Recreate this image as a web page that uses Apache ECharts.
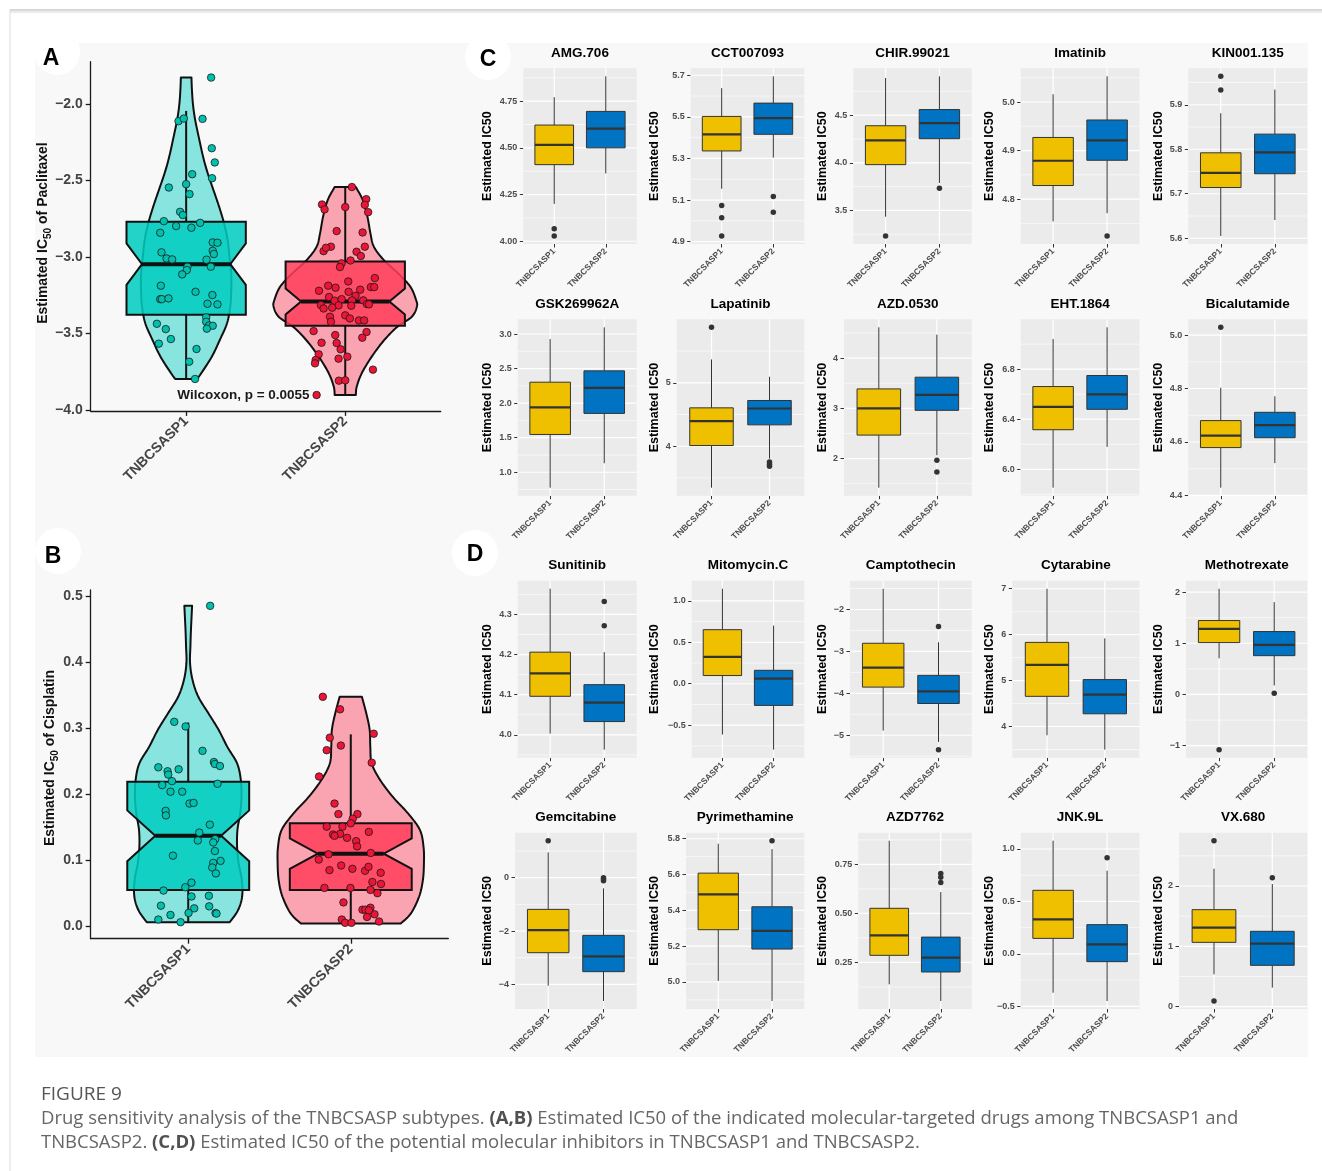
<!DOCTYPE html>
<html>
<head>
<meta charset="utf-8">
<title>Drug sensitivity analysis of the TNBCSASP subtypes</title>
<script src="https://cdn.jsdelivr.net/npm/echarts@6/dist/echarts.min.js"></script>
<style>
  html, body { margin: 0; padding: 0; background: #ffffff; }
  #chart { width: 1322px; height: 1171px; }
</style>
</head>
<body>
<div id="chart"></div>
<script>
// ---------------------------------------------------------------------------
// Data
// ---------------------------------------------------------------------------
const groups = ['TNBCSASP1', 'TNBCSASP2'];

// Panel A: estimated IC50 of Paclitaxel per sample, with horizontal jitter (category units)
const paclitaxelSP1 = [-1.826, -2.111, -2.094, -2.096, -2.288, -2.381, -2.484, -2.458, -2.545, -2.523,
  -2.588, -2.704, -2.725, -2.765, -2.797, -2.808, -2.776, -2.841, -2.904, -2.906,
  -2.959, -2.980, -2.969, -3.009, -3.015, -3.017, -3.063, -3.063, -3.085, -3.113,
  -3.187, -3.227, -3.248, -3.275, -3.275, -3.270, -3.305, -3.309, -3.394, -3.423,
  -3.447, -3.449, -3.468, -3.436, -3.471, -3.536, -3.566, -3.601, -3.684, -3.797];
const paclitaxelSP1Jitter = [0.157, -0.048, -0.015, 0.103, 0.161, 0.180, 0.163, 0.038, -0.109, 0.000,
  0.021, -0.038, -0.021, -0.140, -0.063, 0.033, 0.088, -0.163, 0.167, 0.197,
  0.167, 0.174, -0.155, -0.123, -0.088, 0.128, 0.155, 0.008, 0.004, -0.025,
  -0.159, 0.059, 0.165, -0.163, -0.153, -0.111, 0.134, 0.197, 0.126, 0.126,
  0.144, 0.167, 0.130, -0.184, -0.128, -0.096, -0.172, 0.065, 0.019, 0.056];
const paclitaxelSP2 = [-2.542, -2.656, -2.688, -2.673, -2.621, -2.658, -2.706, -2.830, -2.839, -2.932,
  -2.932, -2.961, -2.939, -2.965, -2.993, -3.022, -3.041, -3.065, -3.137, -3.196,
  -3.196, -3.213, -3.159, -3.187, -3.200, -3.220, -3.227, -3.261, -3.253, -3.285,
  -3.275, -3.283, -3.283, -3.307, -3.309, -3.314, -3.336, -3.316, -3.331, -3.318,
  -3.390, -3.381, -3.401, -3.423, -3.414, -3.414, -3.484, -3.490, -3.510, -3.527,
  -3.560, -3.562, -3.603, -3.636, -3.651, -3.664, -3.673, -3.695, -3.736, -3.808,
  -3.806, -3.902];
const paclitaxelSP2Jitter = [0.042, -0.146, -0.130, 0.000, 0.132, 0.123, 0.144, -0.054, 0.109, 0.123,
  -0.090, -0.136, -0.121, 0.071, 0.098, 0.033, -0.023, -0.033, 0.186, 0.161,
  0.182, 0.094, 0.019, -0.107, -0.061, -0.165, 0.021, -0.102, 0.065, -0.067,
  -0.023, 0.042, 0.113, 0.136, 0.149, -0.153, -0.136, -0.042, -0.082, 0.038,
  -0.096, 0.000, 0.029, -0.090, 0.086, 0.119, -0.199, 0.134, -0.063, 0.107,
  -0.149, -0.054, -0.029, -0.167, 0.013, -0.042, -0.186, -0.190, 0.174, -0.040,
  0.000, -0.180];

// Panel B: estimated IC50 of Cisplatin
const cisplatinSP1 = [0.486, 0.310, 0.303, 0.266, 0.241, 0.235, 0.230, 0.238, 0.249, 0.246,
  0.243, 0.220, 0.214, 0.216, 0.204, 0.204, 0.186, 0.187, 0.175, 0.168,
  0.154, 0.142, 0.132, 0.130, 0.127, 0.114, 0.107, 0.099, 0.096, 0.089,
  0.080, 0.066, 0.059, 0.054, 0.045, 0.046, 0.031, 0.030, 0.027, 0.017,
  0.020, 0.020, 0.019, 0.010, 0.006];
const cisplatinSP1Jitter = [0.135, -0.086, -0.016, 0.088, -0.184, -0.127, -0.123, -0.059, 0.158, 0.164,
  0.195, -0.100, -0.160, 0.180, -0.109, -0.037, 0.008, 0.033, -0.139, -0.137,
  0.133, 0.068, 0.166, 0.059, 0.154, 0.164, -0.094, 0.199, 0.154, 0.148,
  0.170, 0.020, -0.018, -0.152, 0.020, 0.127, -0.168, 0.129, 0.037, -0.109,
  0.002, 0.168, 0.174, -0.184, -0.047];
const cisplatinSP2 = [0.348, 0.329, 0.286, 0.267, 0.274, 0.292, 0.248, 0.227, 0.186, 0.170,
  0.170, 0.163, 0.156, 0.151, 0.151, 0.139, 0.140, 0.137, 0.134, 0.143,
  0.129, 0.121, 0.109, 0.111, 0.101, 0.092, 0.085, 0.087, 0.084, 0.090,
  0.081, 0.067, 0.064, 0.058, 0.058, 0.055, 0.050, 0.036, 0.025, 0.025,
  0.028, 0.018, 0.014, 0.024, 0.010, 0.005, 0.005, 0.007];
const cisplatinSP2Jitter = [-0.172, -0.066, -0.129, -0.148, -0.061, 0.141, 0.129, -0.195, -0.100, -0.076,
  0.041, 0.012, 0.000, -0.148, -0.051, -0.109, -0.066, -0.100, -0.023, 0.111,
  0.033, 0.039, -0.137, 0.123, -0.197, -0.059, -0.131, 0.010, 0.088, 0.109,
  0.184, 0.133, 0.186, -0.162, -0.002, 0.121, 0.164, -0.045, 0.072, 0.090,
  0.121, 0.146, 0.100, 0.111, -0.055, -0.035, 0.004, 0.174];

// Box statistics: [lower whisker, Q1, median, Q3, upper whisker]
const paclitaxelBox = [[-3.797, -3.377, -3.046, -2.769, -2.044], [-3.902, -3.449, -3.290, -3.028, -2.542]];
const cisplatinBox = [[0.006, 0.055, 0.137, 0.219, 0.309], [0.004, 0.055, 0.110, 0.156, 0.291]];

// Kernel density profiles: [IC50, density relative to the widest violin of the panel]
const paclitaxelDensitySP1 = [[-3.797, 0.153], [-3.76, 0.21], [-3.65, 0.36], [-3.542, 0.47], [-3.434, 0.57],
  [-3.325, 0.616], [-3.216, 0.63], [-3.107, 0.63], [-3.0, 0.606], [-2.89, 0.58], [-2.78, 0.53],
  [-2.67, 0.46], [-2.56, 0.38], [-2.45, 0.30], [-2.35, 0.24], [-2.235, 0.185], [-2.1, 0.125],
  [-2.0, 0.095], [-1.9, 0.08], [-1.826, 0.074]];
const paclitaxelDensitySP2 = [[-3.902, 0.148], [-3.848, 0.16], [-3.76, 0.23], [-3.651, 0.37], [-3.542, 0.546],
  [-3.455, 0.73], [-3.39, 0.93], [-3.325, 1.0], [-3.281, 0.99], [-3.194, 0.91], [-3.107, 0.74],
  [-3.02, 0.54], [-2.932, 0.40], [-2.845, 0.352], [-2.736, 0.31], [-2.627, 0.245], [-2.542, 0.148]];
const cisplatinDensitySP1 = [[0.006, 0.567], [0.024, 0.68], [0.045, 0.737], [0.07, 0.733], [0.095, 0.69],
  [0.12, 0.668], [0.146, 0.673], [0.171, 0.71], [0.196, 0.728], [0.222, 0.719], [0.247, 0.668],
  [0.272, 0.535], [0.298, 0.415], [0.323, 0.276], [0.348, 0.138], [0.373, 0.06], [0.399, 0.025],
  [0.425, 0.03], [0.449, 0.037], [0.486, 0.053]];
const cisplatinDensitySP2 = [[0.004, 0.682], [0.019, 0.82], [0.045, 0.935], [0.07, 0.986], [0.095, 1.0],
  [0.12, 0.995], [0.146, 0.945], [0.171, 0.783], [0.196, 0.576], [0.222, 0.40], [0.247, 0.286],
  [0.272, 0.267], [0.298, 0.258], [0.323, 0.212], [0.348, 0.152]];

const paclitaxelTicks = ['−4.0', '−3.5', '−3.0', '−2.5', '−2.0'];
const cisplatinTicks = ['0.0', '0.1', '0.2', '0.3', '0.4', '0.5'];
const wilcoxonText = 'Wilcoxon, p = 0.0055';

// Panels C and D: drug names, box statistics and outliers per subtype
const drugs = ['AMG.706', 'CCT007093', 'CHIR.99021', 'Imatinib', 'KIN001.135',
  'GSK269962A', 'Lapatinib', 'AZD.0530', 'EHT.1864', 'Bicalutamide',
  'Sunitinib', 'Mitomycin.C', 'Camptothecin', 'Cytarabine', 'Methotrexate',
  'Gemcitabine', 'Pyrimethamine', 'AZD7762', 'JNK.9L', 'VX.680'];
const drugBoxSP1 = [
  [4.200, 4.410, 4.516, 4.622, 4.771], [5.154, 5.336, 5.416, 5.502, 5.638], [3.434, 3.981, 4.235, 4.389, 4.890],
  [4.754, 4.828, 4.879, 4.927, 5.016], [5.605, 5.714, 5.747, 5.792, 5.881],
  [0.777, 1.547, 1.939, 2.303, 2.927], [3.347, 4.011, 4.395, 4.605, 5.368], [1.420, 2.467, 3.000, 3.387, 4.613],
  [5.853, 6.316, 6.498, 6.661, 7.041], [4.429, 4.579, 4.624, 4.680, 4.803],
  [4.003, 4.096, 4.153, 4.206, 4.364], [-0.613, 0.099, 0.325, 0.652, 1.146], [-4.889, -3.852, -3.389, -2.806, -1.505],
  [3.810, 4.657, 5.343, 5.832, 7.000], [0.706, 1.013, 1.281, 1.444, 2.065],
  [-4.050, -2.813, -1.963, -1.188, 0.950], [5.006, 5.292, 5.489, 5.608, 5.772], [0.138, 0.286, 0.388, 0.526, 0.871],
  [-0.370, 0.148, 0.329, 0.606, 1.079], [0.536, 1.066, 1.309, 1.608, 2.287]];
const drugBoxSP2 = [
  [4.363, 4.500, 4.603, 4.695, 4.883], [5.304, 5.416, 5.494, 5.566, 5.695], [3.789, 4.253, 4.416, 4.559, 4.908],
  [4.771, 4.880, 4.921, 4.963, 5.053], [5.641, 5.745, 5.793, 5.834, 5.934],
  [1.131, 1.852, 2.220, 2.467, 3.097], [3.805, 4.337, 4.595, 4.721, 5.095], [2.067, 2.960, 3.267, 3.620, 4.467],
  [6.179, 6.479, 6.599, 6.749, 7.134], [4.521, 4.616, 4.663, 4.711, 4.771],
  [3.963, 4.033, 4.080, 4.125, 4.206], [-0.795, -0.261, 0.062, 0.162, 0.701], [-5.160, -4.243, -3.955, -3.572, -2.782],
  [3.496, 4.277, 4.693, 5.022, 5.920], [0.176, 0.758, 0.967, 1.229, 1.804],
  [-4.625, -3.525, -2.950, -2.163, -0.400], [4.894, 5.184, 5.285, 5.420, 5.742], [0.053, 0.201, 0.274, 0.379, 0.609],
  [-0.449, -0.074, 0.091, 0.279, 0.793], [0.315, 0.685, 1.044, 1.249, 2.033]];
const drugOutliersSP1 = [[4.067, 4.028], [5.074, 5.015, 4.927], [3.232], [], [5.964, 5.933],
  [], [5.874], [], [], [5.029],
  [], [], [], [], [-1.078],
  [1.388], [], [], [], [2.751, 0.094]];
const drugOutliersSP2 = [[], [5.117, 5.041], [3.733], [4.724], [],
  [], [3.753, 3.716, 3.684], [1.967, 1.733], [], [],
  [4.332, 4.272], [], [-2.407, -5.344], [], [0.026],
  [0.0, -0.05, -0.11], [5.789], [0.704, 0.684, 0.658], [0.917], [2.138]];
const drugTicks = [
  ['4.00', '4.25', '4.50', '4.75'], ['4.9', '5.1', '5.3', '5.5', '5.7'], ['3.5', '4.0', '4.5'],
  ['4.8', '4.9', '5.0'], ['5.6', '5.7', '5.8', '5.9'],
  ['1.0', '1.5', '2.0', '2.5', '3.0'], ['4', '5'], ['2', '3', '4'], ['6.0', '6.4', '6.8'], ['4.4', '4.6', '4.8', '5.0'],
  ['4.0', '4.1', '4.2', '4.3'], ['−0.5', '0.0', '0.5', '1.0'], ['−5', '−4', '−3', '−2'], ['4', '5', '6', '7'], ['−1', '0', '1', '2'],
  ['−4', '−2', '0'], ['5.0', '5.2', '5.4', '5.6', '5.8'], ['0.25', '0.50', '0.75'], ['−0.5', '0.0', '0.5', '1.0'], ['0', '1', '2']];

// ---------------------------------------------------------------------------
// Layout and style
// ---------------------------------------------------------------------------
const FONT = '"Liberation Sans", Arial, Helvetica, sans-serif';
const CAPTION_FONT = '"Open Sans", "Noto Sans", sans-serif';
const tealBase = [0, 205, 191], redBase = [255, 63, 91];
const rgba = (c, a) => `rgba(${c[0]},${c[1]},${c[2]},${a})`;
const violinFill = [rgba(tealBase, 0.45), rgba(redBase, 0.45)];
const notchFill = [rgba(tealBase, 0.86), rgba(redBase, 0.86)];
const pointFill = ['#00C0AE', '#EC1437'];
const jcoColors = ['#EFC000', '#0073C2'];

const abGrids = [
  { left: 90.7, top: 61.7, width: 350, height: 349.2 },
  { left: 90.7, top: 590, width: 357.6, height: 348.7 }
];
const notchRatio = [0.74, 0.54];

const colRight = [636.7, 804.3, 971.7, 1139.5, 1307.3];
const yTitleX = [487.3, 655, 822.7, 990, 1158.3];
const panelLeft = [
  [523.3, 690.7, 853.3, 1020.7, 1188.3],
  [517.7, 676.7, 844, 1020.7, 1188.3],
  [517.7, 691.7, 850, 1012.3, 1186],
  [515, 686, 858.3, 1020.7, 1179]
];
const rowTop = [68.3, 319.3, 580.7, 832.7];
const rowBottom = [244, 495.7, 757.7, 1009];

// ---------------------------------------------------------------------------
// Helpers
// ---------------------------------------------------------------------------
const parseTick = s => parseFloat(s.replace('−', '-'));
function tickFormatter(labels) {
  const nums = labels.map(parseTick);
  return v => {
    const j = nums.findIndex(t => Math.abs(t - v) < 1e-7);
    return j >= 0 ? labels[j] : '';
  };
}
function paddedRange(values) {
  const lo = Math.min(...values), hi = Math.max(...values);
  const pad = (hi - lo) * 0.05;
  return [lo - pad, hi + pad];
}
// Catmull-Rom smoothing of a pixel outline
function spline(pts, seg) {
  const out = [], n = pts.length;
  for (let i = 0; i < n - 1; i++) {
    const p0 = pts[Math.max(i - 1, 0)], p1 = pts[i], p2 = pts[i + 1], p3 = pts[Math.min(i + 2, n - 1)];
    for (let s = 0; s < seg; s++) {
      const t = s / seg, t2 = t * t, t3 = t2 * t;
      out.push([0, 1].map(k => 0.5 * (2 * p1[k] + (-p0[k] + p2[k]) * t +
        (2 * p0[k] - 5 * p1[k] + 4 * p2[k] - p3[k]) * t2 +
        (-p0[k] + 3 * p1[k] - 3 * p2[k] + p3[k]) * t3)));
    }
  }
  out.push(pts[n - 1].slice());
  return out;
}

const grids = [], xAxes = [], yAxes = [], series = [];
const graphics = [];

// ---------------------------------------------------------------------------
// Panels A and B: violin + notched box + jittered points
// ---------------------------------------------------------------------------
const abPoints = [[paclitaxelSP1, paclitaxelSP2], [cisplatinSP1, cisplatinSP2]];
const abJitter = [[paclitaxelSP1Jitter, paclitaxelSP2Jitter], [cisplatinSP1Jitter, cisplatinSP2Jitter]];
const abBox = [paclitaxelBox, cisplatinBox];
const abDensity = [[paclitaxelDensitySP1, paclitaxelDensitySP2], [cisplatinDensitySP1, cisplatinDensitySP2]];
const abTicks = [paclitaxelTicks, cisplatinTicks];

abGrids.forEach((g, p) => {
  const gi = grids.length;
  grids.push(Object.assign({ containLabel: false, outerBoundsMode: 'none', show: false }, g));
  const range = paddedRange(abPoints[p][0].concat(abPoints[p][1]));
  const tickNums = abTicks[p].map(parseTick);
  xAxes.push({
    gridIndex: gi, type: 'value', min: 0.4, max: 2.6,
    axisLine: { show: true, onZero: false, lineStyle: { color: '#1a1a1a', width: 1.3 } },
    axisTick: { show: true, customValues: [1, 2], length: 5, lineStyle: { color: '#1a1a1a', width: 1.3 } },
    axisLabel: { customValues: [1, 2], formatter: v => groups[Math.round(v) - 1], rotate: 45, margin: 8,
      fontFamily: FONT, fontSize: 14, fontWeight: 'bold', color: '#444' },
    splitLine: { show: false }
  });
  yAxes.push({
    gridIndex: gi, type: 'value', min: range[0], max: range[1],
    axisLine: { show: true, onZero: false, lineStyle: { color: '#1a1a1a', width: 1.3 } },
    axisTick: { show: true, customValues: tickNums, length: 5, lineStyle: { color: '#1a1a1a', width: 1.3 } },
    axisLabel: { customValues: tickNums, formatter: tickFormatter(abTicks[p]), margin: 8,
      fontFamily: FONT, fontSize: 14, fontWeight: 'bold', color: '#444' },
    splitLine: { show: false }
  });

  // violins
  series.push({
    type: 'custom', xAxisIndex: gi, yAxisIndex: gi, z: 2,
    data: [[1, range[0]], [2, range[0]]],
    renderItem: (params, api) => {
      const grp = params.dataIndex, cat = grp + 1;
      const cx = api.coord([cat, range[0]])[0];
      const unit = api.size([1, 0])[0];
      const right = abDensity[p][grp].map(([v, d]) => [cx + d * 0.45 * unit, api.coord([cat, v])[1]]);
      const rs = spline(right, 10);
      const ls = rs.map(([x, y]) => [2 * cx - x, y]).reverse();
      return { type: 'polygon', shape: { points: rs.concat(ls) },
        style: { fill: violinFill[grp], stroke: '#111', lineWidth: 2, lineJoin: 'round' } };
    }
  });

  // notched boxes with whiskers
  series.push({
    type: 'custom', xAxisIndex: gi, yAxisIndex: gi, z: 3,
    data: [[1, abBox[p][0][2]], [2, abBox[p][1][2]]],
    renderItem: (params, api) => {
      const grp = params.dataIndex, cat = grp + 1;
      const [lw, q1, med, q3, uw] = abBox[p][grp];
      const notch = 1.58 * (q3 - q1) / Math.sqrt(abPoints[p][grp].length);
      const cx = api.coord([cat, med])[0];
      const h = api.size([0.375, 0])[0];
      const nh = h * notchRatio[p];
      const Y = v => api.coord([cat, v])[1];
      const pts = [[cx - h, Y(q3)], [cx + h, Y(q3)], [cx + h, Y(med + notch)], [cx + nh, Y(med)],
        [cx + h, Y(med - notch)], [cx + h, Y(q1)], [cx - h, Y(q1)], [cx - h, Y(med - notch)],
        [cx - nh, Y(med)], [cx - h, Y(med + notch)]];
      return { type: 'group', children: [
        { type: 'line', shape: { x1: cx, y1: Y(uw), x2: cx, y2: Y(q3) }, style: { stroke: '#111', lineWidth: 2 } },
        { type: 'line', shape: { x1: cx, y1: Y(q1), x2: cx, y2: Y(lw) }, style: { stroke: '#111', lineWidth: 2 } },
        { type: 'polygon', shape: { points: pts }, style: { fill: notchFill[grp], stroke: '#111', lineWidth: 2, lineJoin: 'miter' } },
        { type: 'line', shape: { x1: cx - nh, y1: Y(med), x2: cx + nh, y2: Y(med) }, style: { stroke: '#111', lineWidth: 4 } }
      ] };
    }
  });

  // jittered samples
  [0, 1].forEach(grp => {
    series.push({
      type: 'scatter', xAxisIndex: gi, yAxisIndex: gi, z: 4,
      symbol: 'circle', symbolSize: 7.5, silent: true,
      itemStyle: { color: pointFill[grp], borderColor: '#1a1a1a', borderWidth: 0.8, opacity: 1 },
      data: abPoints[p][grp].map((v, i) => [grp + 1 + (abJitter[p][grp][i] || 0), v])
    });
  });

  // test annotation in panel A
  if (p === 0) {
    series.push({
      type: 'custom', xAxisIndex: gi, yAxisIndex: gi, z: 5,
      data: [[1.36, Math.min(...abPoints[0][1])]],
      renderItem: (params, api) => {
        const c = api.coord([api.value(0), api.value(1)]);
        return { type: 'text', x: c[0], y: c[1], style: { text: wilcoxonText, fontFamily: FONT, fontSize: 13.5,
          fontWeight: 'bold', fill: '#1a1a1a', align: 'center', verticalAlign: 'middle' } };
      }
    });
  }
});

// ---------------------------------------------------------------------------
// Panels C and D: ggplot-style boxplot grid
// ---------------------------------------------------------------------------
drugs.forEach((name, i) => {
  const r = Math.floor(i / 5), c = i % 5;
  const left = panelLeft[r][c];
  const gi = grids.length;
  grids.push({ left, top: rowTop[r], width: colRight[c] - left, height: rowBottom[r] - rowTop[r],
    containLabel: false, outerBoundsMode: 'none', show: false });
  const stats = [drugBoxSP1[i], drugBoxSP2[i]];
  const outs = [drugOutliersSP1[i], drugOutliersSP2[i]];
  const range = paddedRange(stats[0].concat(stats[1], outs[0], outs[1]));
  const majors = drugTicks[i].map(parseTick);
  const step = majors[1] - majors[0];
  const minors = [];
  for (let k = -1; k < majors.length; k++) {
    const v = majors[0] + (k + 0.5) * step;
    if (v >= range[0] && v <= range[1]) minors.push(v);
  }

  xAxes.push({
    gridIndex: gi, type: 'value', min: 0.4, max: 2.6,
    axisLine: { show: false, onZero: false },
    axisTick: { show: true, customValues: [1, 2], length: 3.5, lineStyle: { color: '#333', width: 1 } },
    axisLabel: { customValues: [1, 2], formatter: v => groups[Math.round(v) - 1], rotate: 45, margin: 6,
      fontFamily: FONT, fontSize: 8.5, fontWeight: 'bold', color: '#4d4d4d' },
    splitLine: { show: false }
  });
  yAxes.push({
    gridIndex: gi, type: 'value', min: range[0], max: range[1],
    axisLine: { show: false, onZero: false },
    axisTick: { show: true, customValues: majors, length: 3.5, lineStyle: { color: '#333', width: 1 } },
    axisLabel: { customValues: majors, formatter: tickFormatter(drugTicks[i]), margin: 6,
      fontFamily: FONT, fontSize: 9, fontWeight: 'bold', color: '#4d4d4d' },
    splitLine: { show: false }
  });

  // panel background with major / minor grid lines
  series.push({
    type: 'custom', xAxisIndex: gi, yAxisIndex: gi, z: 1, silent: true,
    data: [[1, majors[0]]],
    renderItem: (params, api) => {
      const cs = params.coordSys;
      const kids = [{ type: 'rect', shape: { x: cs.x, y: cs.y, width: cs.width, height: cs.height }, style: { fill: '#EBEBEB' } }];
      minors.forEach(v => {
        const y = api.coord([1, v])[1];
        kids.push({ type: 'line', shape: { x1: cs.x, y1: y, x2: cs.x + cs.width, y2: y }, style: { stroke: '#fff', lineWidth: 0.6 } });
      });
      majors.forEach(v => {
        const y = api.coord([1, v])[1];
        kids.push({ type: 'line', shape: { x1: cs.x, y1: y, x2: cs.x + cs.width, y2: y }, style: { stroke: '#fff', lineWidth: 1.2 } });
      });
      [1, 2].forEach(k => {
        const x = api.coord([k, majors[0]])[0];
        kids.push({ type: 'line', shape: { x1: x, y1: cs.y, x2: x, y2: cs.y + cs.height }, style: { stroke: '#fff', lineWidth: 1.2 } });
      });
      return { type: 'group', children: kids };
    }
  });

  // boxes
  series.push({
    type: 'custom', xAxisIndex: gi, yAxisIndex: gi, z: 2,
    data: stats.map((s, g) => [g + 1].concat(s)),
    renderItem: (params, api) => {
      const cat = api.value(0);
      const cx = api.coord([cat, api.value(3)])[0];
      const h = api.size([0.375, 0])[0];
      const Y = k => api.coord([cat, api.value(k)])[1];
      const yLw = Y(1), yQ1 = Y(2), yMed = Y(3), yQ3 = Y(4), yUw = Y(5);
      return { type: 'group', children: [
        { type: 'line', shape: { x1: cx, y1: yUw, x2: cx, y2: yQ3 }, style: { stroke: '#333', lineWidth: 1 } },
        { type: 'line', shape: { x1: cx, y1: yQ1, x2: cx, y2: yLw }, style: { stroke: '#333', lineWidth: 1 } },
        { type: 'rect', shape: { x: cx - h, y: yQ3, width: 2 * h, height: yQ1 - yQ3 },
          style: { fill: jcoColors[params.dataIndex], stroke: '#333', lineWidth: 1 } },
        { type: 'line', shape: { x1: cx - h, y1: yMed, x2: cx + h, y2: yMed }, style: { stroke: '#333', lineWidth: 2.2 } }
      ] };
    }
  });

  // outliers
  series.push({
    type: 'scatter', xAxisIndex: gi, yAxisIndex: gi, z: 3, silent: true,
    symbol: 'circle', symbolSize: 5.5, itemStyle: { color: '#333', opacity: 1 },
    data: outs[0].map(v => [1, v]).concat(outs[1].map(v => [2, v]))
  });

  // plot title and y-axis title
  graphics.push({ type: 'text', z: 10, x: (left + colRight[c]) / 2, y: rowTop[r] - 15,
    style: { text: name, fontFamily: FONT, fontSize: 13.5, fontWeight: 'bold', fill: '#000',
      align: 'center', verticalAlign: 'middle' } });
  graphics.push({ type: 'text', z: 10, x: yTitleX[c], y: (rowTop[r] + rowBottom[r]) / 2, rotation: Math.PI / 2,
    style: { text: 'Estimated IC50', fontFamily: FONT, fontSize: 12.5, fontWeight: 'bold', fill: '#000',
      align: 'center', verticalAlign: 'middle' } });
});

// ---------------------------------------------------------------------------
// Figure frame, panel letters, axis titles of A/B, caption
// ---------------------------------------------------------------------------
graphics.unshift(
  { type: 'rect', z: -10, silent: true, shape: { x: 35, y: 43, width: 1273, height: 1014 }, style: { fill: '#f8f8f8' } },
  { type: 'rect', z: -10, silent: true, shape: { x: 10, y: 9, width: 1312, height: 5 },
    style: { fill: new echarts.graphic.LinearGradient(0, 0, 0, 1, [{ offset: 0, color: '#cfcfcf' }, { offset: 1, color: '#ffffff' }]) } },
  { type: 'rect', z: -10, silent: true, shape: { x: 9.5, y: 10, width: 1, height: 1161 }, style: { fill: '#dcdcdc' } }
);

const letters = [['A', 57, 52, 51, 59], ['B', 58, 551, 53, 557], ['C', 488, 57, 488, 60], ['D', 475, 553, 475, 555]];
letters.forEach(([t, cx, cy, tx, ty]) => {
  graphics.push({ type: 'circle', z: 8, silent: true, shape: { cx, cy, r: 23 }, style: { fill: '#ffffff' } });
  graphics.push({ type: 'text', z: 9, x: tx, y: ty, style: { text: t, fontFamily: FONT, fontSize: 23, fontWeight: 'bold',
    fill: '#000', align: 'center', verticalAlign: 'middle' } });
});

const subRich = {
  b: { fontFamily: FONT, fontSize: 14, fontWeight: 'bold', fill: '#111', color: '#111', lineHeight: 20 },
  s: { fontFamily: FONT, fontSize: 10, fontWeight: 'bold', fill: '#111', color: '#111', lineHeight: 10, verticalAlign: 'bottom' }
};
graphics.push({ type: 'text', z: 10, x: 43, y: 233, rotation: Math.PI / 2,
  style: { text: '{b|Estimated IC}{s|50}{b| of Paclitaxel}', rich: subRich, align: 'center', verticalAlign: 'middle' } });
graphics.push({ type: 'text', z: 10, x: 50, y: 758, rotation: Math.PI / 2,
  style: { text: '{b|Estimated IC}{s|50}{b| of Cisplatin}', rich: subRich, align: 'center', verticalAlign: 'middle' } });

const capRich = {
  n: { fontFamily: CAPTION_FONT, fontSize: 18.5, fill: '#666', color: '#666' },
  b: { fontFamily: CAPTION_FONT, fontSize: 18.5, fontWeight: 'bold', fill: '#505050', color: '#505050' }
};
graphics.push({ type: 'text', z: 10, x: 41, y: 1095,
  style: { text: 'FIGURE 9', fontFamily: CAPTION_FONT, fontSize: 19, fill: '#555', align: 'left', verticalAlign: 'middle' } });
graphics.push({ type: 'text', z: 10, x: 41, y: 1119,
  style: { text: '{n|Drug sensitivity analysis of the TNBCSASP subtypes. }{b|(A,B)}{n| Estimated IC50 of the indicated molecular-targeted drugs among TNBCSASP1 and}',
    rich: capRich, align: 'left', verticalAlign: 'middle' } });
graphics.push({ type: 'text', z: 10, x: 41, y: 1143,
  style: { text: '{n|TNBCSASP2. }{b|(C,D)}{n| Estimated IC50 of the potential molecular inhibitors in TNBCSASP1 and TNBCSASP2.}',
    rich: capRich, align: 'left', verticalAlign: 'middle' } });

// ---------------------------------------------------------------------------
const chart = echarts.init(document.getElementById('chart'), null, { renderer: 'canvas', width: 1322, height: 1171 });
chart.setOption({
  animation: false,
  backgroundColor: '#ffffff',
  textStyle: { fontFamily: FONT },
  grid: grids,
  xAxis: xAxes,
  yAxis: yAxes,
  series: series,
  graphic: { elements: graphics }
});
</script>
</body>
</html>
